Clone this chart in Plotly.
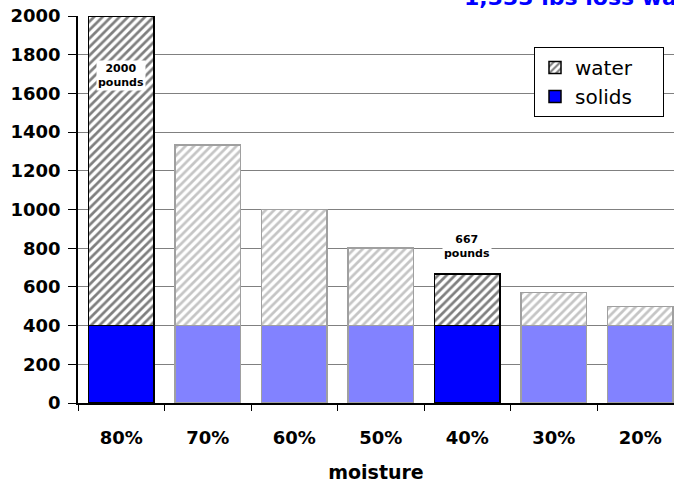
import plotly.graph_objects as go

categories = ["80%", "70%", "60%", "50%", "40%", "30%", "20%"]
solids = [400, 400, 400, 400, 400, 400, 400]
water = [1600, 933, 600, 400, 267, 171, 100]
highlight = [True, False, False, False, True, False, False]
label_texts = ["2000<br>pounds", "667<br>pounds"]
label_idx = [0, 4]
label_y = [1695, 811]
title_text = "1,333 lbs loss water"

FONT = "DejaVu Sans"
PAD = "\u00a0" * 4

solid_colors = ["#0000ff" if h else "#8282ff" for h in highlight]
solid_lines = ["#000000" if h else "#a0a0a0" for h in highlight]
water_fg = ["#000000" if h else "#8c8c8c" for h in highlight]
water_lines = ["#000000" if h else "#a0a0a0" for h in highlight]

fig = go.Figure()
fig.add_trace(go.Bar(
    x=categories, y=solids, name="solids" + PAD, width=0.76,
    marker=dict(color=solid_colors, line=dict(color=solid_lines, width=1.5)),
))
fig.add_trace(go.Bar(
    x=categories, y=water, name="water" + PAD, width=0.76,
    marker=dict(color="white", line=dict(color=water_lines, width=1.5),
                pattern=dict(shape="/", fgcolor=water_fg, size=6, solidity=0.45)),
))

for t, i, y in zip(label_texts, label_idx, label_y):
    fig.add_annotation(x=categories[i], y=y, text="<b>" + t + "</b>", showarrow=False,
                       font=dict(family=FONT, size=11, color="black"),
                       bgcolor="white", borderpad=1)

fig.add_annotation(xref="paper", yref="paper", x=(462 - 78) / 596, y=1 + 19 / 387,
                   xanchor="left", yanchor="middle", text="<b>" + title_text + "</b>",
                   showarrow=False, font=dict(family=FONT, size=22, color="#0000ff"))

fig.update_layout(
    width=674, height=485,
    margin=dict(l=78, r=0, t=16, b=82),
    barmode="stack",
    paper_bgcolor="white", plot_bgcolor="white",
    font=dict(family=FONT, color="black"),
    showlegend=True,
    legend=dict(x=(534 - 78) / 596, y=(403 - 47) / 387, xanchor="left", yanchor="top",
                bgcolor="white", bordercolor="black", borderwidth=1,
                traceorder="reversed", font=dict(family=FONT, size=20)),
    xaxis=dict(range=[-0.5, 6.39], showline=True, linecolor="black", linewidth=1.5,
               ticks="outside", tickson="boundaries", ticklen=6, tickcolor="black",
               tickfont=dict(family=FONT, size=18, color="black", weight="bold"),
               ticklabelstandoff=18,
               title=dict(text="<b>moisture</b>", font=dict(family=FONT, size=19), standoff=18)),
    yaxis=dict(range=[0, 2000], dtick=200, showline=True, linecolor="black", linewidth=1.5,
               ticks="outside", ticklen=8, tickcolor="black",
               showgrid=True, gridcolor="#808080", gridwidth=1,
               tickfont=dict(family=FONT, size=18, color="black", weight="bold"),
               ticklabelstandoff=4, zeroline=False),
)

fig.write_html("out.html", config={"displayModeBar": False},
               post_script="document.body.style.margin='0';document.body.style.overflow='hidden';")
